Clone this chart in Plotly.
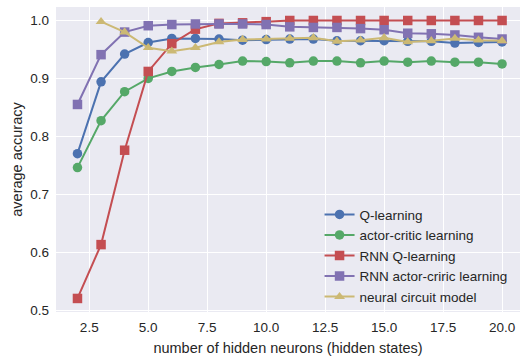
import plotly.graph_objects as go

x = list(range(2, 21))
q_learning = [0.770, 0.894, 0.942, 0.962, 0.969, 0.969, 0.968, 0.966, 0.967, 0.968,
              0.968, 0.965, 0.965, 0.965, 0.964, 0.964, 0.961, 0.962, 0.963]
actor_critic = [0.746, 0.827, 0.877, 0.900, 0.912, 0.919, 0.924, 0.930, 0.929, 0.927,
                0.930, 0.930, 0.927, 0.930, 0.928, 0.930, 0.928, 0.928, 0.925]
rnn_q = [0.520, 0.613, 0.776, 0.912, 0.960, 0.985, 0.995, 0.996, 0.998, 1.000,
         1.000, 1.000, 1.000, 1.000, 1.000, 1.000, 1.000, 1.000, 1.000]
rnn_ac = [0.855, 0.941, 0.980, 0.991, 0.993, 0.994, 0.994, 0.994, 0.993, 0.989,
          0.988, 0.988, 0.986, 0.984, 0.978, 0.977, 0.975, 0.971, 0.968]
x_circuit = list(range(3, 21))
circuit = [0.998, 0.980, 0.953, 0.947, 0.953, 0.963, 0.967, 0.968, 0.969,
           0.970, 0.964, 0.966, 0.970, 0.963, 0.965, 0.969, 0.966, 0.965]

series = [
    ("Q-learning", x, q_learning, "#4C72B0", "circle", 9.5),
    ("actor-critic learning", x, actor_critic, "#55A868", "circle", 9.5),
    ("RNN Q-learning", x, rnn_q, "#C44E52", "square", 9.5),
    ("RNN actor-criric learning", x, rnn_ac, "#8172B2", "square", 9.5),
    ("neural circuit model", x_circuit, circuit, "#CCB974", "triangle-up", 9.5),
]

fig = go.Figure()
for name, xs, ys, color, sym, size in series:
    fig.add_trace(go.Scatter(
        x=xs, y=ys, name=name, mode="lines+markers",
        line=dict(color=color, width=2),
        marker=dict(color=color, symbol=sym, size=size, line=dict(width=0)),
    ))

font = "Liberation Sans, Arial, sans-serif"
fig.update_layout(
    width=520, height=359,
    margin=dict(l=56, r=0, t=7, b=47),
    paper_bgcolor="white",
    plot_bgcolor="#EAEAF2",
    font=dict(family=font, size=13, color="#262626"),
    showlegend=True,
    legend=dict(x=0.568, y=0.37, xanchor="left", yanchor="top",
                bgcolor="rgba(0,0,0,0)", font=dict(size=13.5, color="#262626"),
                tracegroupgap=0, itemwidth=30),
)
fig.update_xaxes(
    range=[1.09, 20.76], tick0=2.5, dtick=2.5, tickformat=".1f",
    showgrid=True, gridcolor="white", gridwidth=1.3, zeroline=False,
    showline=False, ticks="", ticklen=0, ticklabelstandoff=5,
    title=dict(text="number of hidden neurons (hidden states)", font=dict(size=14.5), standoff=9),
    tickfont=dict(size=13.5, color="#262626"),
)
fig.update_yaxes(
    range=[0.4966, 1.0233], tick0=0.5, dtick=0.1, tickformat=".1f",
    showgrid=True, gridcolor="white", gridwidth=1.3, zeroline=False,
    showline=False, ticks="", ticklen=0, ticklabelstandoff=6,
    title=dict(text="average accuracy", font=dict(size=14.5), standoff=4),
    tickfont=dict(size=13.5, color="#262626"),
)
fig.write_html("out.html")
